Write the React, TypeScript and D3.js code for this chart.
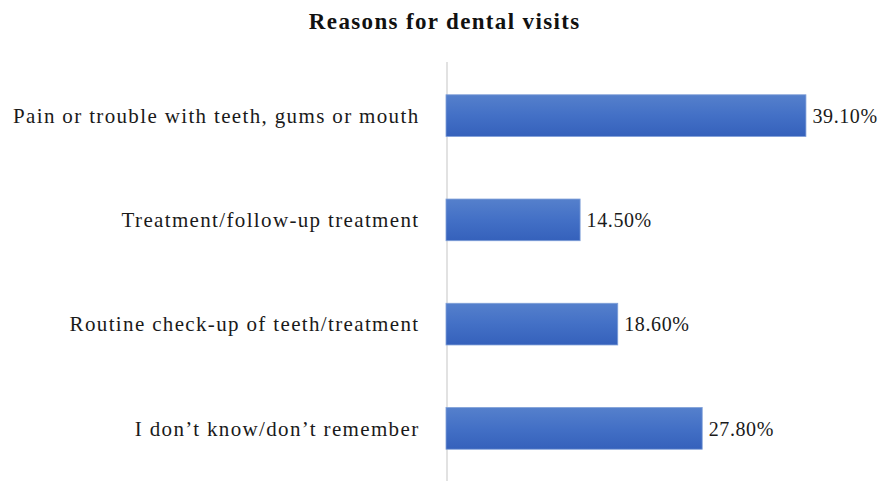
import { useEffect, useRef } from "react"
import * as d3 from "d3"

const categories = [
  "Pain or trouble with teeth, gums or mouth",
  "Treatment/follow-up treatment",
  "Routine check-up of teeth/treatment",
  "I don\u2019t know/don\u2019t remember",
]
const values = [39.1, 14.5, 18.6, 27.8]
const title = "Reasons for dental visits"

export default function App() {
  const svgRef = useRef<SVGSVGElement | null>(null)

  useEffect(() => {
    if (!svgRef.current) return
    const width = 881
    const height = 481
    const font = "'Liberation Serif', 'Times New Roman', serif"

    const svg = d3.select(svgRef.current).attr("width", width).attr("height", height)
    svg.selectAll("*").remove()

    const defs = svg.append("defs")
    const grad = defs
      .append("linearGradient")
      .attr("id", "barGrad")
      .attr("x1", 0)
      .attr("y1", 0)
      .attr("x2", 0)
      .attr("y2", 1)
    grad.append("stop").attr("offset", "0%").attr("stop-color", "#5580cc")
    grad.append("stop").attr("offset", "50%").attr("stop-color", "#4370c6")
    grad.append("stop").attr("offset", "100%").attr("stop-color", "#3561bb")

    const x = d3.scaleLinear().domain([0, 40]).range([447, 447 + 9.18 * 40])
    const y = d3
      .scaleBand<string>()
      .domain(categories)
      .range([63.5, 480.5])
      .paddingInner(0.6)
      .paddingOuter(0.3)

    // title
    svg
      .append("text")
      .attr("x", 444.7)
      .attr("y", 28.5)
      .attr("text-anchor", "middle")
      .attr("font-family", font)
      .attr("font-weight", "bold")
      .attr("font-size", 23)
      .attr("letter-spacing", 1.35)
      .attr("fill", "#111")
      .text(title)

    // axis line
    svg
      .append("line")
      .attr("x1", x(0))
      .attr("x2", x(0))
      .attr("y1", 62)
      .attr("y2", height)
      .attr("stroke", "#d9d9d9")
      .attr("stroke-width", 1.5)

    const rows = svg
      .append("g")
      .selectAll("g")
      .data(categories)
      .join("g")

    rows
      .append("rect")
      .attr("x", x(0) - 1)
      .attr("y", d => y(d) ?? 0)
      .attr("width", (_, i) => x(values[i]) - x(0) + 1)
      .attr("height", y.bandwidth())
      .attr("fill", "url(#barGrad)")
      .attr("stroke", "#7f9fd8")
      .attr("stroke-width", 0.8)

    rows
      .append("text")
      .attr("x", x(0) - 27.5)
      .attr("y", d => (y(d) ?? 0) + y.bandwidth() / 2)
      .attr("dy", "0.34em")
      .attr("text-anchor", "end")
      .attr("font-family", font)
      .attr("font-size", 21)
      .attr("letter-spacing", 1.35)
      .attr("fill", "#1a1a1a")
      .text(d => d)

    rows
      .append("text")
      .attr("x", (_, i) => x(values[i]) + 6.5)
      .attr("y", d => (y(d) ?? 0) + y.bandwidth() / 2)
      .attr("dy", "0.36em")
      .attr("font-family", font)
      .attr("font-size", 20)
      .attr("letter-spacing", 0.6)
      .attr("fill", "#1a1a1a")
      .text((_, i) => `${values[i].toFixed(2)}%`)
  }, [])

  return (
    <div style={{ position: "absolute", left: 0, top: 0 }}>
      <svg ref={svgRef} style={{ display: "block" }} />
    </div>
  )
}
